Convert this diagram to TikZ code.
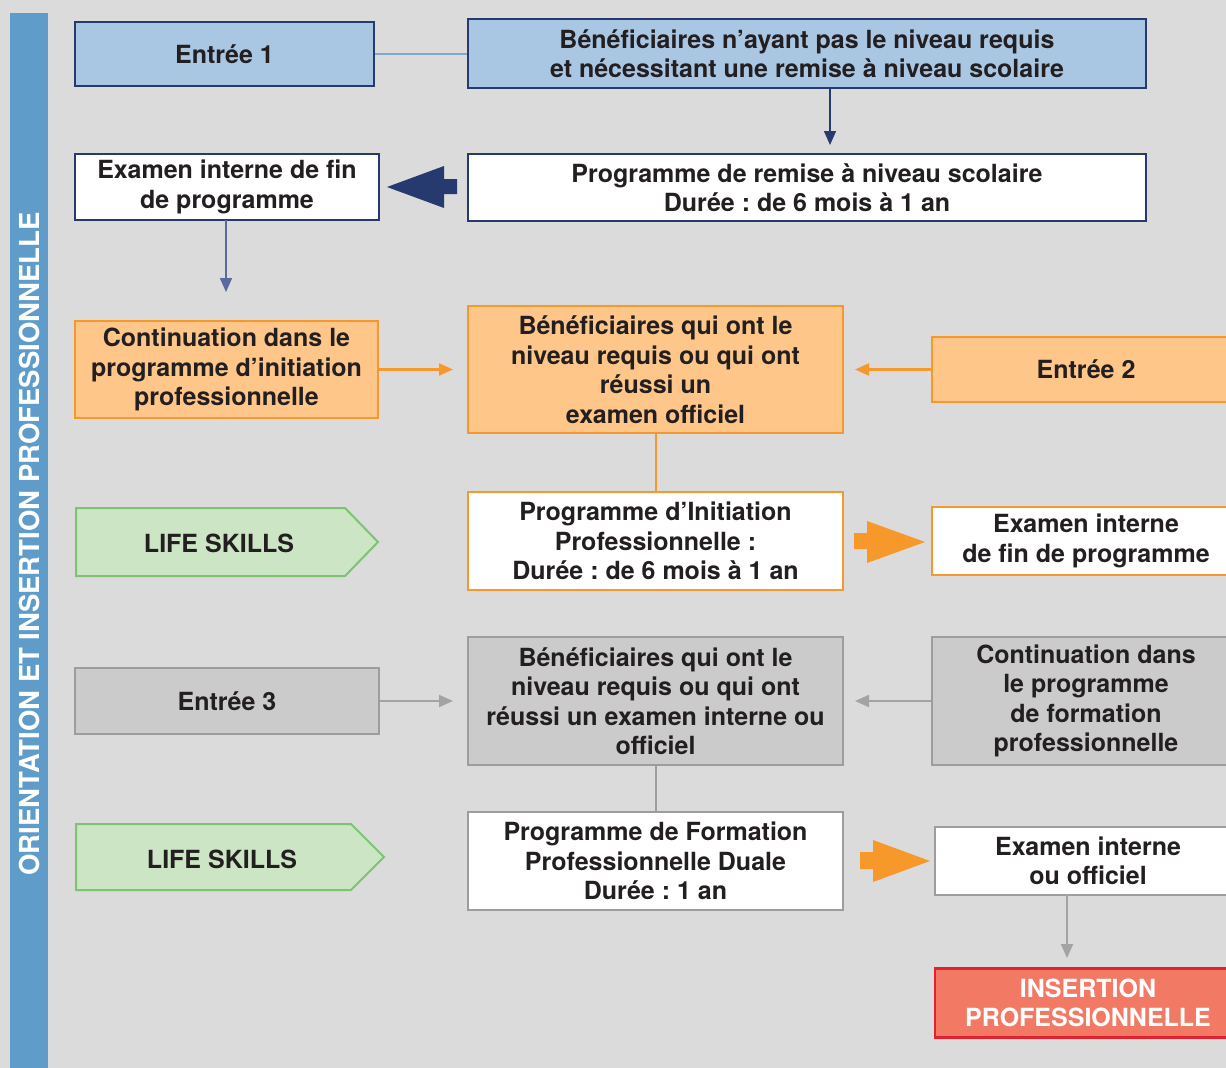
\documentclass[tikz,border=0pt]{standalone}
\usepackage{fontspec}
\setmainfont{TeX Gyre Heros}
\usetikzlibrary{arrows.meta}
\frenchspacing
\definecolor{bg}{HTML}{DBDBDB}
\definecolor{side}{HTML}{5F9CC9}
\definecolor{bfill}{HTML}{A9C6E2}
\definecolor{navy}{HTML}{263A70}
\definecolor{lblue}{HTML}{7FA7D0}
\definecolor{slate}{HTML}{5A6A9A}
\definecolor{ofill}{HTML}{FEC689}
\definecolor{orng}{HTML}{F7982B}
\definecolor{gfill}{HTML}{CCE5C4}
\definecolor{gline}{HTML}{7DC373}
\definecolor{grfill}{HTML}{CBCBCB}
\definecolor{grline}{HTML}{9D9D9D}
\definecolor{grarrow}{HTML}{A3A3A5}
\definecolor{rfill}{HTML}{F27A65}
\definecolor{rline}{HTML}{E5202E}
\definecolor{txt}{HTML}{231F20}
\begin{document}
\begin{tikzpicture}[x=1pt,y=-1pt,
  box/.style={rectangle, inner sep=0pt, align=center, text=txt,
    font=\fontsize{25}{29.5}\selectfont\bfseries\frenchspacing},
  bluebox/.style={box, fill=bfill, draw=navy, line width=1.5pt},
  whitenavy/.style={box, fill=white, draw=navy, line width=1.5pt},
  orangebox/.style={box, fill=ofill, draw=orng, line width=2.2pt},
  whiteorange/.style={box, fill=white, draw=orng, line width=2.2pt},
  graybox/.style={box, fill=grfill, draw=grline, line width=2pt},
  whitegray/.style={box, fill=white, draw=grline, line width=2pt},
  redbox/.style={box, fill=rfill, draw=rline, line width=2.5pt, text=white},
  tipA/.style={-{Triangle[length=14pt,width=12pt]}},
]
\useasboundingbox (0,0) rectangle (1226,1068);
\clip (0,0) rectangle (1226,1068);
\fill[bg] (0,0) rectangle (1226,1068);
% sidebar
\fill[side] (10,13) rectangle (48,1070);
\node[rotate=90, text=white, font=\fontsize{27.5}{30}\selectfont\bfseries] (side) at (29,544) {ORIENTATION ET INSERTION PROFESSIONNELLE};

% row 1
\node[bluebox, minimum width=299pt, minimum height=64pt] (e1) at (224.5,54) {Entrée 1};
\node[bluebox, minimum width=678pt, minimum height=69pt] (b1) at (807,53.5) {Bénéficiaires n’ayant pas le niveau requis\\et nécessitant une remise à niveau scolaire};
\draw[lblue, line width=2pt] (e1.east) -- (e1.east -| b1.west);

% row 2
\node[whitenavy, minimum width=678pt, minimum height=67pt] (p1) at (807,187.5) {Programme de remise à niveau scolaire\\Durée : de 6 mois à 1 an};
\node[whitenavy, minimum width=304pt, minimum height=66pt] (x1) at (227,187) {Examen interne de fin\\de programme};
\coordinate (b1a) at (830,145);
\draw[navy, line width=1.5pt, tipA] (830,88) -- (b1a);
\fill[navy] (387,187) -- (444,166) -- (444,179) -- (457,179) -- (457,194) -- (444,194) -- (444,208) -- cycle;
\coordinate (x1a) at (226,292);
\draw[slate, line width=1.5pt, tipA] (226,220) -- (x1a);

% row 3 orange
\node[orangebox, minimum width=303pt, minimum height=97pt] (c1) at (226.5,369.5) {Continuation dans le\\programme d’initiation\\professionnelle};
\node[orangebox, minimum width=375pt, minimum height=127pt] (b2) at (655.5,369.5) {Bénéficiaires qui ont le\\niveau requis ou qui ont\\réussi un\\examen officiel};
\node[orangebox, minimum width=308pt, minimum height=65pt] (e2) at (1086,369.5) {Entrée 2};
\coordinate (c1a) at (453,369.5);
\coordinate (e2a) at (855,369.5);
\draw[orng, line width=2.2pt, tipA] (c1.east) -- (c1a);
\draw[orng, line width=2.2pt, tipA] (e2.west) -- (e2a);

% row 4
\node[whiteorange, minimum width=375pt, minimum height=98pt] (p2) at (655.5,541) {Programme d’Initiation\\Professionnelle :\\Durée : de 6 mois à 1 an};
\draw[orng, line width=2pt] (b2.south) -- (p2.north);
\node[whiteorange, minimum width=308pt, minimum height=68pt] (x2) at (1086,541) {Examen interne\\de fin de programme};
\fill[orng] (925,542) -- (867,521) -- (867,533) -- (854,533) -- (854,549) -- (867,549) -- (867,563) -- cycle;
\draw[gline, fill=gfill, line width=2pt] (76,508) -- (345,508) -- (378,542) -- (345,576) -- (76,576) -- cycle;
\node[box] (ls1) at (219,543) {LIFE SKILLS};

% row 5 gray
\node[graybox, minimum width=304pt, minimum height=66pt] (e3) at (227,701) {Entrée 3};
\node[graybox, minimum width=375pt, minimum height=128pt] (b3) at (655.5,701) {Bénéficiaires qui ont le\\niveau requis ou qui ont\\réussi un examen interne ou\\officiel};
\node[graybox, minimum width=308pt, minimum height=128pt] (c3) at (1086,701) {Continuation dans\\le programme\\de formation\\professionnelle};
\coordinate (e3a) at (453,701);
\coordinate (c3a) at (855,701);
\draw[grarrow, line width=2pt, tipA] (e3.east) -- (e3a);
\draw[grarrow, line width=2pt, tipA] (c3.west) -- (c3a);

% row 6
\node[whitegray, minimum width=375pt, minimum height=98pt] (p3) at (655.5,861) {Programme de Formation\\Professionnelle Duale\\Durée : 1 an};
\draw[grline, line width=2pt] (b3.south) -- (p3.north);
\node[whitegray, minimum width=306pt, minimum height=68pt] (x3) at (1088,861) {Examen interne\\ou officiel};
\fill[orng] (930,861) -- (873,840) -- (873,852) -- (860,852) -- (860,869) -- (873,869) -- (873,882) -- cycle;
\draw[gline, fill=gfill, line width=2pt] (76,824) -- (351,824) -- (384,857) -- (351,890) -- (76,890) -- cycle;
\node[box] (ls2) at (222,859) {LIFE SKILLS};

% final
\node[redbox, minimum width=306pt, minimum height=69pt] (ins) at (1088,1003) {INSERTION\\PROFESSIONNELLE};
\coordinate (x3a) at (1067,958);
\draw[grarrow, line width=2pt, tipA] (1067,894) -- (x3a);
\end{tikzpicture}
\end{document}
